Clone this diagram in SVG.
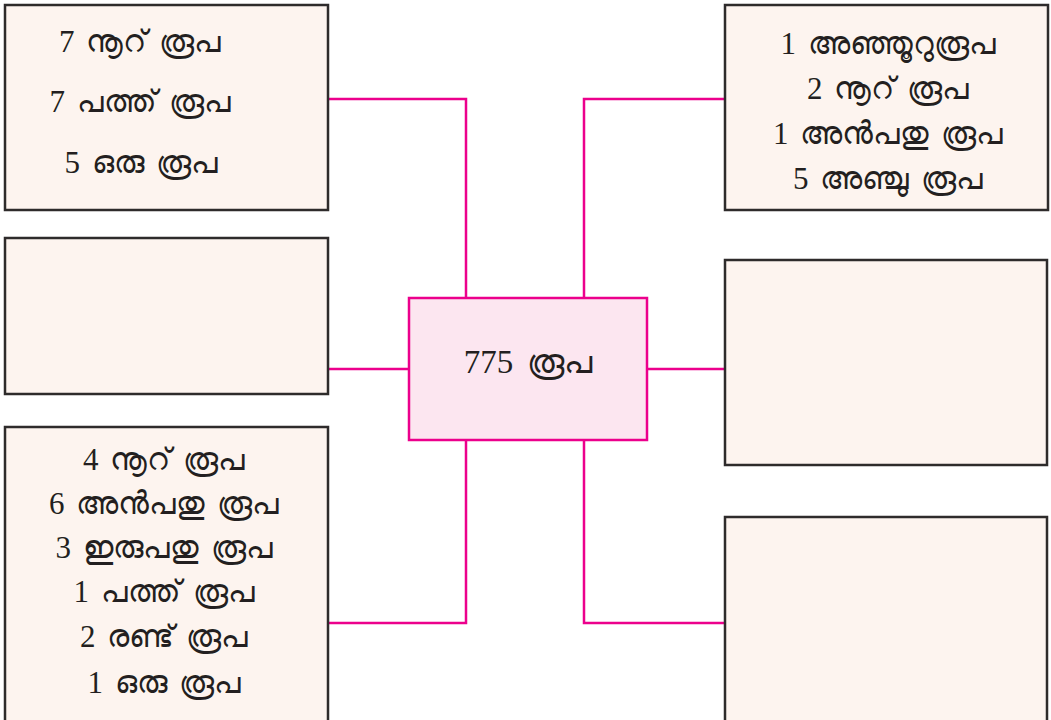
<svg xmlns="http://www.w3.org/2000/svg" width="1051" height="720" viewBox="0 0 1051 720">
<style>
.box{fill:#fdf4ef;stroke:#2e2b2b;stroke-width:2.5}
.ctr{fill:#fce6f0;stroke:#ec008c;stroke-width:2.5}
.conn{fill:none;stroke:#ec008c;stroke-width:2.5}
text{font-family:"Liberation Serif","Noto Sans",serif;font-size:31px;fill:#231f20;text-anchor:middle;word-spacing:4px}
.big{font-size:33px;word-spacing:6px}
</style>
<rect width="1051" height="720" fill="#ffffff"/>
<g id="connectors">
<polyline class="conn" points="328,99 466,99 466,298"/>
<polyline class="conn" points="725,99 584,99 584,298"/>
<line class="conn" x1="328" y1="369" x2="409" y2="369"/>
<line class="conn" x1="647" y1="369" x2="725" y2="369"/>
<polyline class="conn" points="466,440 466,623 328,623"/>
<polyline class="conn" points="584,440 584,623 725,623"/>
</g>
<g id="center">
<rect class="ctr" x="409" y="298" width="238" height="142"/>
<text class="big" x="528" y="373">775 രൂപ</text>
</g>
<g id="top-left">
<rect class="box" x="5" y="5" width="323" height="205"/>
<text x="140" y="52">7 നൂറ് രൂപ</text>
<text x="140" y="112">7 പത്ത് രൂപ</text>
<text x="141" y="173">5 ഒരു രൂപ</text>
</g>
<g id="top-right">
<rect class="box" x="725" y="5" width="323" height="205"/>
<text x="888" y="54">1 അഞ്ഞൂറുരൂപ</text>
<text x="888" y="99">2 നൂറ് രൂപ</text>
<text x="888" y="144">1 അൻപതു രൂപ</text>
<text x="888" y="189">5 അഞ്ചു രൂപ</text>
</g>
<g id="middle-left">
<rect class="box" x="5" y="238" width="323" height="156"/>
</g>
<g id="middle-right">
<rect class="box" x="725" y="260" width="322" height="205"/>
</g>
<g id="bottom-left">
<rect class="box" x="5" y="427" width="323" height="300"/>
<text x="164" y="470">4 നൂറ് രൂപ</text>
<text x="164" y="514">6 അൻപതു രൂപ</text>
<text x="164" y="558">3 ഇരുപതു രൂപ</text>
<text x="164" y="602">1 പത്ത് രൂപ</text>
<text x="164" y="647">2 രണ്ട് രൂപ</text>
<text x="164" y="693">1 ഒരു രൂപ</text>
</g>
<g id="bottom-right">
<rect class="box" x="725" y="517" width="322" height="210"/>
</g>
</svg>
